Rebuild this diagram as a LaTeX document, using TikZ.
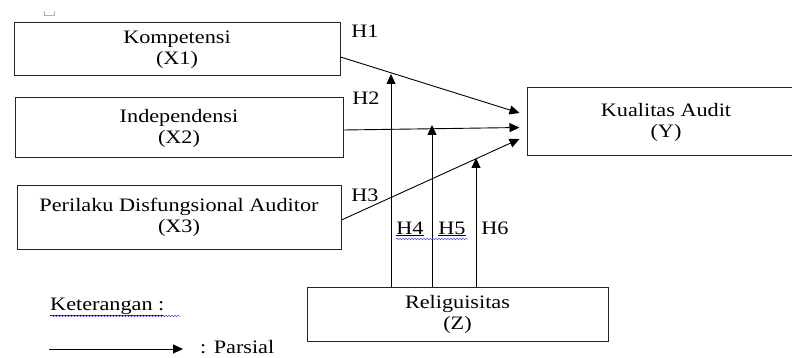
\documentclass[tikz,border=0pt]{standalone}
\usepackage{fontspec}
\setmainfont{Liberation Serif}[FakeStretch=1.17]
\usetikzlibrary{arrows.meta,decorations.pathmorphing}

\tikzset{
  box/.style={draw=black!85, line width=1pt, align=center, inner sep=0pt},
  arr/.style={-{Triangle[length=10pt,width=9pt]}, line width=0.9pt},
  hyp/.style={inner sep=0pt, anchor=base},
  spell/.style={draw=blue!70, line width=0.5pt, decorate,
    decoration={snake, amplitude=0.8pt, segment length=3pt}},
}

\begin{document}
\begin{tikzpicture}[x=1pt, y=-1pt, font=\fontsize{19}{21}\selectfont]
  \useasboundingbox (0,0) rectangle (792,358);

  % stray mark at the top
  \draw[gray!60, line width=0.6pt] (44,11) -- (44,15) -- (54,15) -- (54,11);

  % variables
  \node[box, minimum width=326pt, minimum height=53pt] (kompetensi) at (177,49.5) {Kompetensi\\(X1)};
  \node[box, minimum width=328pt, minimum height=60pt] (independensi) at (179,128) {Independensi\\(X2)};
  \node[box, minimum width=324pt, minimum height=63pt] (perilaku) at (179,217.5) {Perilaku Disfungsional Auditor\\(X3)};
  \node[box, minimum width=278pt, minimum height=68pt] (kualitas) at (666,122) {Kualitas Audit\\(Y)};
  \node[box, minimum width=301pt, minimum height=54pt] (religiusitas) at (457.5,314) {Religuisitas\\(Z)};

  % direct effects
  \draw[arr] ([yshift=-7.5pt]kompetensi.east) -- ([xshift=-7pt,yshift=9pt]kualitas.west);
  \draw[arr] ([yshift=-2pt]independensi.east) -- ([xshift=-7pt,yshift=-5.5pt]kualitas.west);
  \draw[arr] ([yshift=-2.5pt]perilaku.east) -- ([xshift=-7pt,yshift=-17pt]kualitas.west);

  % moderation
  \foreach \x/\y/\n in {391/74/4, 432/125/5, 476/158/6}
  {
  \coordinate (h\n) at (\x,\y);
  \draw[arr] (religiusitas.north -| h\n) -- (h\n);
  }

  \node[hyp] (lh1) at (365,38) {H1};
  \node[hyp] (lh2) at (366,105) {H2};
  \node[hyp] (lh3) at (365,202) {H3};
  \node[hyp] (lh4) at (410,234) {\underline{H4}};
  \node[hyp] (lh5) at (452,234) {\underline{H5}};
  \node[hyp] (lh6) at (495,234) {H6};
  \draw[spell] (396,239) -- (468,239);

  % legend
  \node[hyp, anchor=base west] (ket) at (50,310) {\underline{Keterangan :}};
  \draw[spell] (51,316) -- (180,316);
  \coordinate (lga) at (49,349);
  \coordinate (lgb) at (183,349);
  \draw[arr] (lga) -- (lgb);
  \node[hyp, anchor=base west] (parsial) at (200,353) {: Parsial};

\end{tikzpicture}
\end{document}
